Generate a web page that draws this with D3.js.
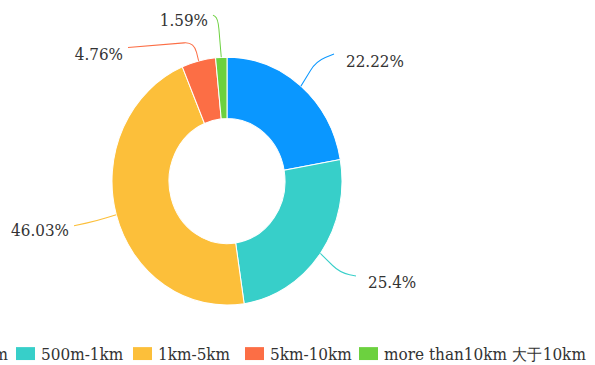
<!DOCTYPE html>
<html>
<head>
<meta charset="utf-8">
<script src="https://cdn.jsdelivr.net/npm/d3@7/dist/d3.min.js"></script>
<style>
  html, body { margin: 0; padding: 0; background: #fff; }
  svg { display: block; }
  text { font-family: "DejaVu Serif", serif; fill: #333; }
</style>
</head>
<body>
<svg id="chart" width="595" height="365"></svg>
<script>
// Distance bands and respondent counts
const categories = ["less than500m 小于500m", "500m-1km", "1km-5km", "5km-10km", "more than10km 大于10km"];
const counts = [14, 16, 29, 3, 1];
const percentLabels = ["22.22%", "25.4%", "46.03%", "4.76%", "1.59%"];
const colors = ["#0A97FF", "#37CFC9", "#FCBF3A", "#FC6E45", "#6CD13F"];

const sy = 1.078;               // vertical stretch of the whole drawing
const cx = 227, cy = 168;       // ring centre (unstretched units)
const outerR = 115, innerR = 58;

const svg = d3.select("#chart");
const g = svg.append("g").attr("transform", `scale(1, ${sy})`);

const pie = d3.pie().sort(null).value(d => d).startAngle(0).endAngle(2 * Math.PI);
const arcs = pie(counts);
const arc = d3.arc().innerRadius(innerR).outerRadius(outerR);

const ring = g.append("g").attr("transform", `translate(${cx},${cy})`);
ring.selectAll("path.slice")
  .data(arcs)
  .join("path")
  .attr("class", "slice")
  .attr("d", arc)
  .attr("fill", (d, i) => colors[i])
  .attr("stroke", "#fff")
  .attr("stroke-width", 1);

// Leader lines: from the slice's outer edge, through an elbow, to the label
const labelLayout = [
  { elbow: [316, 57], end: [334, 50], side: 1, dy: 7 },
  { elbow: [340, 253], end: [356, 256], side: 1, dy: 6 },
  { elbow: [96, 205], end: [74, 209.5], side: -1, dy: 4 },
  { elbow: [194, 39], end: [128, 44], side: -1, dy: 7 },
  { elbow: [218, 17], end: [213, 14], side: -1, dy: 5 }
];

function outerPoint(d) {
  const a = (d.startAngle + d.endAngle) / 2;
  return [cx + outerR * Math.sin(a), cy - outerR * Math.cos(a)];
}

function leaderPath(p0, p1, p2, r) {
  const d01 = Math.hypot(p1[0] - p0[0], p1[1] - p0[1]);
  const d12 = Math.hypot(p2[0] - p1[0], p2[1] - p1[1]);
  const r0 = Math.min(r, d01 * 0.6), r1 = Math.min(r, d12 * 0.6);
  const a = [p1[0] + (p0[0] - p1[0]) * r0 / d01, p1[1] + (p0[1] - p1[1]) * r0 / d01];
  const b = [p1[0] + (p2[0] - p1[0]) * r1 / d12, p1[1] + (p2[1] - p1[1]) * r1 / d12];
  const path = d3.path();
  path.moveTo(p0[0], p0[1]);
  path.lineTo(a[0], a[1]);
  path.quadraticCurveTo(p1[0], p1[1], b[0], b[1]);
  path.lineTo(p2[0], p2[1]);
  return path.toString();
}

const labels = g.append("g");
labels.selectAll("path.leader")
  .data(arcs)
  .join("path")
  .attr("class", "leader")
  .attr("fill", "none")
  .attr("stroke", (d, i) => colors[i])
  .attr("stroke-width", 1)
  .attr("d", (d, i) => leaderPath(outerPoint(d), labelLayout[i].elbow, labelLayout[i].end, 10));

labels.selectAll("text.pct")
  .data(arcs)
  .join("text")
  .attr("class", "pct")
  .attr("font-size", 15.2)
  .attr("x", (d, i) => labelLayout[i].end[0] + labelLayout[i].side * (labelLayout[i].side > 0 ? 12 : 5))
  .attr("y", (d, i) => labelLayout[i].end[1] + labelLayout[i].dy + 5)
  .attr("text-anchor", (d, i) => labelLayout[i].side > 0 ? "start" : "end")
  .text((d, i) => percentLabels[i]);

// Legend row along the bottom; the first entry runs off the left edge
const legend = g.append("g");
const swW = 19, swH = 12, swGap = 6, legendY = 322;
const legendX = [null, 16, 133, 245, 359];
const items = legend.selectAll("g.item")
  .data(categories)
  .join("g")
  .attr("class", "item");
items.append("rect")
  .attr("width", swW).attr("height", swH)
  .attr("fill", (d, i) => colors[i]);
items.append("text")
  .attr("font-size", 15.3)
  .attr("x", swW + swGap)
  .attr("y", swH - 0.5)
  .text(d => d);

const firstWidth = swW + swGap + items.filter((d, i) => i === 0).select("text").node().getComputedTextLength();
items.attr("transform", (d, i) => `translate(${i === 0 ? 8 - firstWidth : legendX[i]},${legendY})`);
</script>
</body>
</html>
